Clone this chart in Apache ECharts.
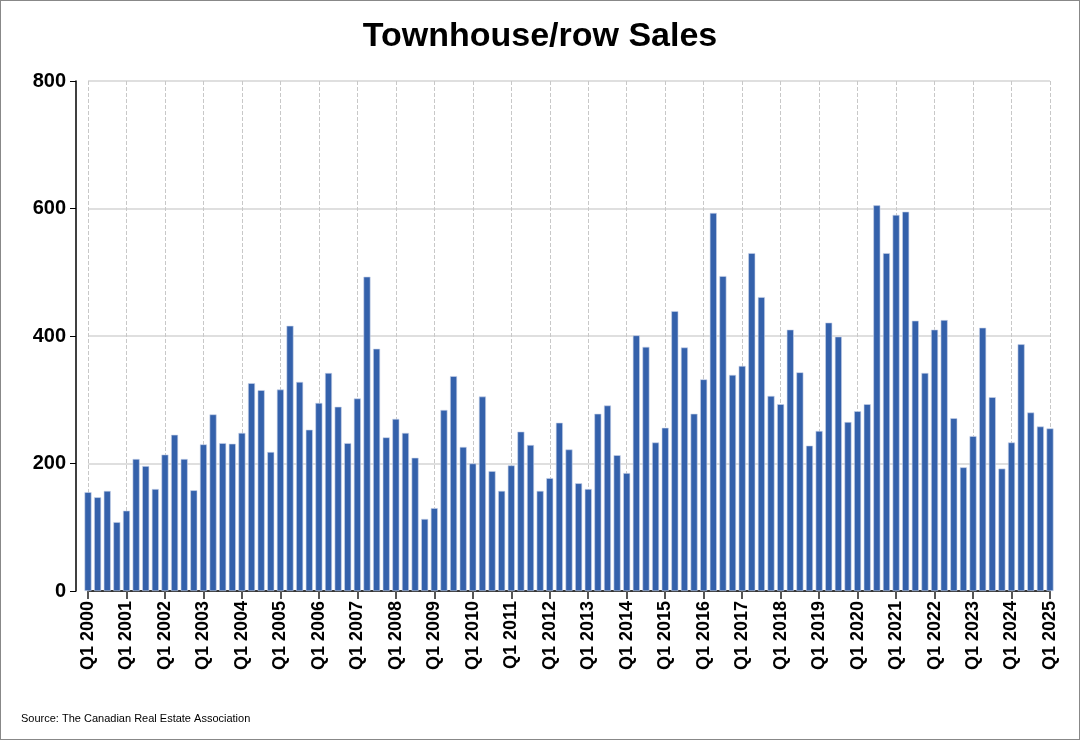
<!DOCTYPE html>
<html>
<head>
<meta charset="utf-8">
<script src="https://cdn.jsdelivr.net/npm/echarts@6/dist/echarts.min.js"></script>
<style>
  html, body { margin: 0; padding: 0; background: #fff; }
  #chart { width: 1078px; height: 738px; border: 1px solid #888; }
</style>
</head>
<body>
<div id="chart"></div>
<script>
// quarterly townhouse/row sales, Q1 2000 .. Q1 2025
var years = [];
for (var y = 2000; y <= 2025; y++) years.push(y);
var quarters = ['Q1', 'Q2', 'Q3', 'Q4'];

var sales = [
  155, 147, 157, 108,
  126, 207, 196, 160,
  214, 245, 207, 158,
  230, 277, 232, 231,
  248, 326, 315, 218,
  316, 416, 328, 253,
  295, 342, 289, 232,
  302, 493, 380, 241,
  270, 248, 209, 113,
  130, 284, 337, 226,
  200, 305, 188, 157,
  197, 250, 229, 157,
  177, 264, 222, 169,
  160, 278, 291, 213,
  185, 401, 383, 233,
  256, 439, 382, 278,
  332, 593, 494, 339,
  353, 530, 461, 306,
  293, 410, 343, 228,
  251, 421, 399, 265,
  282, 293, 605, 530,
  590, 595, 424, 342,
  410, 425, 271, 194,
  243, 413, 304, 192,
  233, 387, 280, 258,
  255
];

var categories = [];
years.forEach(function (yr) {
  quarters.forEach(function (q) { categories.push(q + ' ' + yr); });
});
categories = categories.slice(0, sales.length);

var chart = echarts.init(document.getElementById('chart'));
chart.setOption({
  animation: false,
  textStyle: { fontFamily: 'Liberation Sans, Arial, sans-serif' },
  title: {
    text: 'Townhouse/row Sales',
    left: 'center',
    top: 14,
    textStyle: { fontSize: 34, fontWeight: 'bold', color: '#000' }
  },
  graphic: [{
    type: 'text',
    left: 20,
    top: 712,
    style: { text: 'Source: The Canadian Real Estate Association', fontSize: 11, fill: '#000', fontFamily: 'Liberation Sans, Arial' }
  }],
  grid: { left: 87, right: 29, top: 80, bottom: 148 },
  xAxis: {
    type: 'category',
    data: categories,
    boundaryGap: false,
    axisLine: { lineStyle: { color: '#000', width: 1.5 } },
    axisTick: { interval: 3, length: 8, lineStyle: { color: '#555', width: 2 } },
    axisLabel: {
      interval: 3, rotate: 90, margin: 10,
      fontSize: 18, fontWeight: 'bold', color: '#000'
    },
    splitLine: { show: true, interval: 3, lineStyle: { type: 'dashed', color: '#c8c8c8' } }
  },
  yAxis: {
    type: 'value',
    min: 0, max: 800, interval: 200,
    offset: 12,
    axisLine: { show: true, lineStyle: { color: '#000', width: 1.5 } },
    axisTick: { show: true, length: 6, lineStyle: { color: '#000' } },
    axisLabel: { fontSize: 20, fontWeight: 'bold', color: '#000', margin: 10 },
    splitLine: { lineStyle: { color: '#d4d4d4', width: 1.5 } }
  },
  series: [{
    type: 'bar',
    data: sales,
    barWidth: 7,
    itemStyle: { color: '#3461ab', borderColor: '#c9d4ea', borderWidth: 0.6 }
  }]
});
</script>
</body>
</html>
